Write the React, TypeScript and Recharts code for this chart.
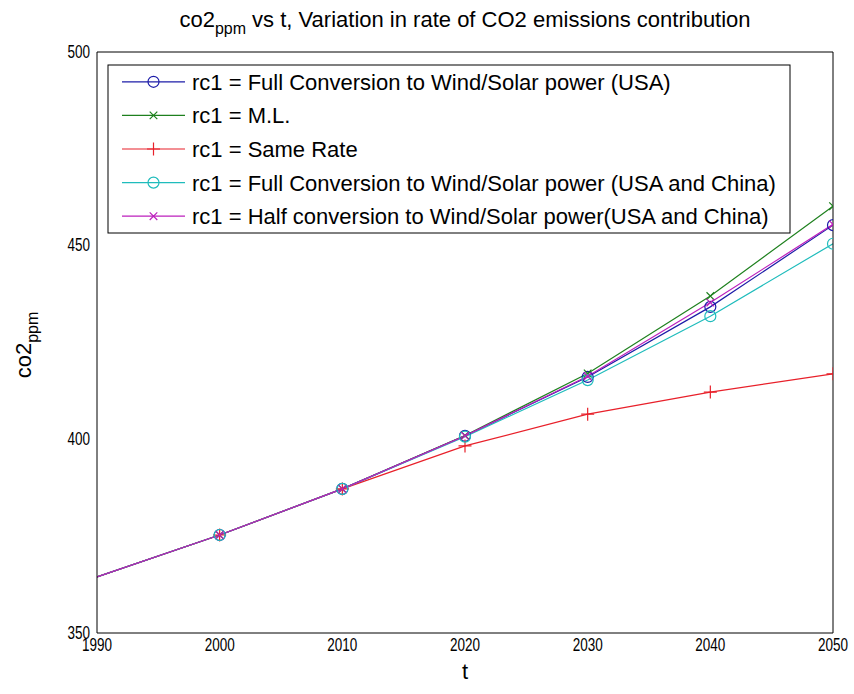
import React from 'react';
import { LineChart, Line, XAxis, YAxis } from 'recharts';

// ---- data ----
const years = [1990, 2000, 2010, 2020, 2030, 2040, 2050];
const usaFull = [364.5, 375.3, 387.2, 400.9, 416.1, 434.2, 455.3];
const ml = [364.5, 375.3, 387.2, 401.0, 417.0, 437.0, 460.2];
const sameRate = [364.5, 375.3, 387.2, 398.3, 406.5, 412.2, 416.9];
const usaChinaFull = [364.5, 375.3, 387.2, 400.7, 415.3, 431.8, 450.5];
const halfConv = [364.5, 375.3, 387.2, 400.9, 416.3, 435.3, 455.5];

const xTicks = [1990, 2000, 2010, 2020, 2030, 2040, 2050];
const yTicks = [350, 400, 450, 500];

const seriesNames = [
  'rc1 = Full Conversion to Wind/Solar power (USA)',
  'rc1 = M.L.',
  'rc1 = Same Rate',
  'rc1 = Full Conversion to Wind/Solar power (USA and China)',
  'rc1 = Half conversion to Wind/Solar power(USA and China)',
];
const seriesKeys = ['usaFull', 'ml', 'sameRate', 'usaChinaFull', 'halfConv'];
const seriesValues = [usaFull, ml, sameRate, usaChinaFull, halfConv];

// ---- styles ----
const seriesColors = ['#1c1ca8', '#1e801e', '#e8202a', '#1fbcbc', '#bc1fbc'];
const seriesMarkers = ['circle', 'x', 'plus', 'circle', 'x'];

const data = years.map((t, i) => {
  const row: any = { t };
  seriesKeys.forEach((k, j) => {
    row[k] = seriesValues[j][i];
  });
  return row;
});

const FONT = "'Liberation Sans', Arial, Helvetica, sans-serif";

function Marker({ cx, cy, shape, color }: any) {
  if (cx == null || cy == null) return <g />;
  if (shape === 'circle') {
    return <circle cx={cx} cy={cy} r={5.5} fill="none" stroke={color} strokeWidth={1.2} />;
  }
  if (shape === 'x') {
    const d = 3.8;
    return (
      <path
        d={`M${cx - d},${cy - d}L${cx + d},${cy + d}M${cx - d},${cy + d}L${cx + d},${cy - d}`}
        stroke={color}
        strokeWidth={1.2}
        fill="none"
      />
    );
  }
  const s = 6.5;
  return (
    <path
      d={`M${cx - s},${cy}L${cx + s},${cy}M${cx},${cy - s}L${cx},${cy + s}`}
      stroke={color}
      strokeWidth={1.2}
      fill="none"
    />
  );
}

function XTick({ x, y, payload }: any) {
  const label = String(payload.value);
  return (
    <text
      x={x}
      y={y}
      dy="0.71em"
      textAnchor="middle"
      fontFamily={FONT}
      fontSize={19}
      fill="#000"
      textLength={label.length * 7.5}
      lengthAdjust="spacingAndGlyphs"
    >
      {label}
    </text>
  );
}

function YTick({ x, y, payload }: any) {
  const label = String(payload.value);
  return (
    <text
      x={x}
      y={y - 1}
      dy="0.355em"
      textAnchor="end"
      fontFamily={FONT}
      fontSize={19}
      fill="#000"
      textLength={label.length * 7.5}
      lengthAdjust="spacingAndGlyphs"
    >
      {label}
    </text>
  );
}

function LegendBox() {
  const left = 108;
  const top = 65;
  const right = 790;
  const bottom = 233;
  const rowH = (bottom - top) / seriesNames.length;
  return (
    <g>
      <rect x={left} y={top} width={right - left} height={bottom - top} fill="#fff" stroke="#000" strokeWidth={1} />
      {seriesNames.map((name, i) => {
        const cy = top + rowH * (i + 0.5);
        return (
          <g key={name}>
            <line x1={122} x2={185} y1={cy} y2={cy} stroke={seriesColors[i]} strokeWidth={1.2} />
            <Marker cx={153.5} cy={cy} shape={seriesMarkers[i]} color={seriesColors[i]} />
            <text x={192} y={cy} dy="0.36em" fontFamily={FONT} fontSize={22} fill="#000">
              {name}
            </text>
          </g>
        );
      })}
    </g>
  );
}

function Title() {
  return (
    <text x={465} y={27} textAnchor="middle" fontFamily={FONT} fontSize={22} fill="#000">
      co2
      <tspan dy={7} fontSize={16}>ppm</tspan>
      <tspan dy={-7}> vs t, Variation in rate of CO2 emissions contribution</tspan>
    </text>
  );
}

function YLabel() {
  return (
    <text
      transform="translate(31,345) rotate(-90)"
      textAnchor="middle"
      fontFamily={FONT}
      fontSize={22}
      fill="#000"
    >
      co2
      <tspan dy={7} fontSize={16}>ppm</tspan>
    </text>
  );
}

export default function App() {
  return (
    <div style={{ position: 'absolute', left: 0, top: 0, background: '#fff' }}>
      <LineChart
        width={854}
        height={694}
        data={data}
        margin={{ top: 52, right: 21, bottom: 21, left: 0 }}
        style={{ background: '#fff' }}
      >
        <XAxis
          dataKey="t"
          type="number"
          domain={[1990, 2050]}
          ticks={xTicks}
          allowDataOverflow
          height={40}
          tickLine={false}
          tickSize={0}
          tickMargin={5}
          axisLine={{ stroke: '#000', strokeWidth: 1 }}
          tick={<XTick />}
          label={{ value: 't', position: 'insideBottom', offset: -6, fill: '#000', fontSize: 22, fontFamily: FONT }}
        />
        <XAxis
          xAxisId="bm"
          dataKey="t"
          type="number"
          domain={[1990, 2050]}
          ticks={xTicks}
          allowDataOverflow
          orientation="bottom"
          mirror
          tick={false}
          tickSize={7}
          axisLine={false}
          tickLine={{ stroke: '#000' }}
        />
        <XAxis
          xAxisId="top"
          dataKey="t"
          type="number"
          domain={[1990, 2050]}
          ticks={xTicks}
          allowDataOverflow
          orientation="top"
          mirror
          tick={false}
          tickSize={7}
          axisLine={{ stroke: '#000', strokeWidth: 1 }}
          tickLine={{ stroke: '#000' }}
        />
        <YAxis
          type="number"
          domain={[350, 500]}
          ticks={yTicks}
          allowDataOverflow
          width={97}
          tickLine={false}
          tickSize={0}
          tickMargin={7}
          axisLine={{ stroke: '#000', strokeWidth: 1 }}
          tick={<YTick />}
        />
        <YAxis
          yAxisId="lm"
          type="number"
          domain={[350, 500]}
          ticks={yTicks}
          allowDataOverflow
          orientation="left"
          mirror
          tick={false}
          tickSize={7}
          axisLine={false}
          tickLine={{ stroke: '#000' }}
        />
        <YAxis
          yAxisId="right"
          type="number"
          domain={[350, 500]}
          ticks={yTicks}
          allowDataOverflow
          orientation="right"
          mirror
          tick={false}
          tickSize={7}
          axisLine={{ stroke: '#000', strokeWidth: 1 }}
          tickLine={{ stroke: '#000' }}
        />
        {seriesKeys.map((k, i) => (
          <Line
            key={k}
            dataKey={k}
            name={seriesNames[i]}
            type="linear"
            stroke={seriesColors[i]}
            strokeWidth={1.2}
            isAnimationActive={false}
            dot={(p: any) =>
              p.index === 0 ? (
                <g key={`d${k}${p.index}`} />
              ) : (
                <Marker key={`d${k}${p.index}`} cx={p.cx} cy={p.cy} shape={seriesMarkers[i]} color={seriesColors[i]} />
              )
            }
            activeDot={false}
          />
        ))}
        <LegendBox />
        <Title />
        <YLabel />
      </LineChart>
    </div>
  );
}
